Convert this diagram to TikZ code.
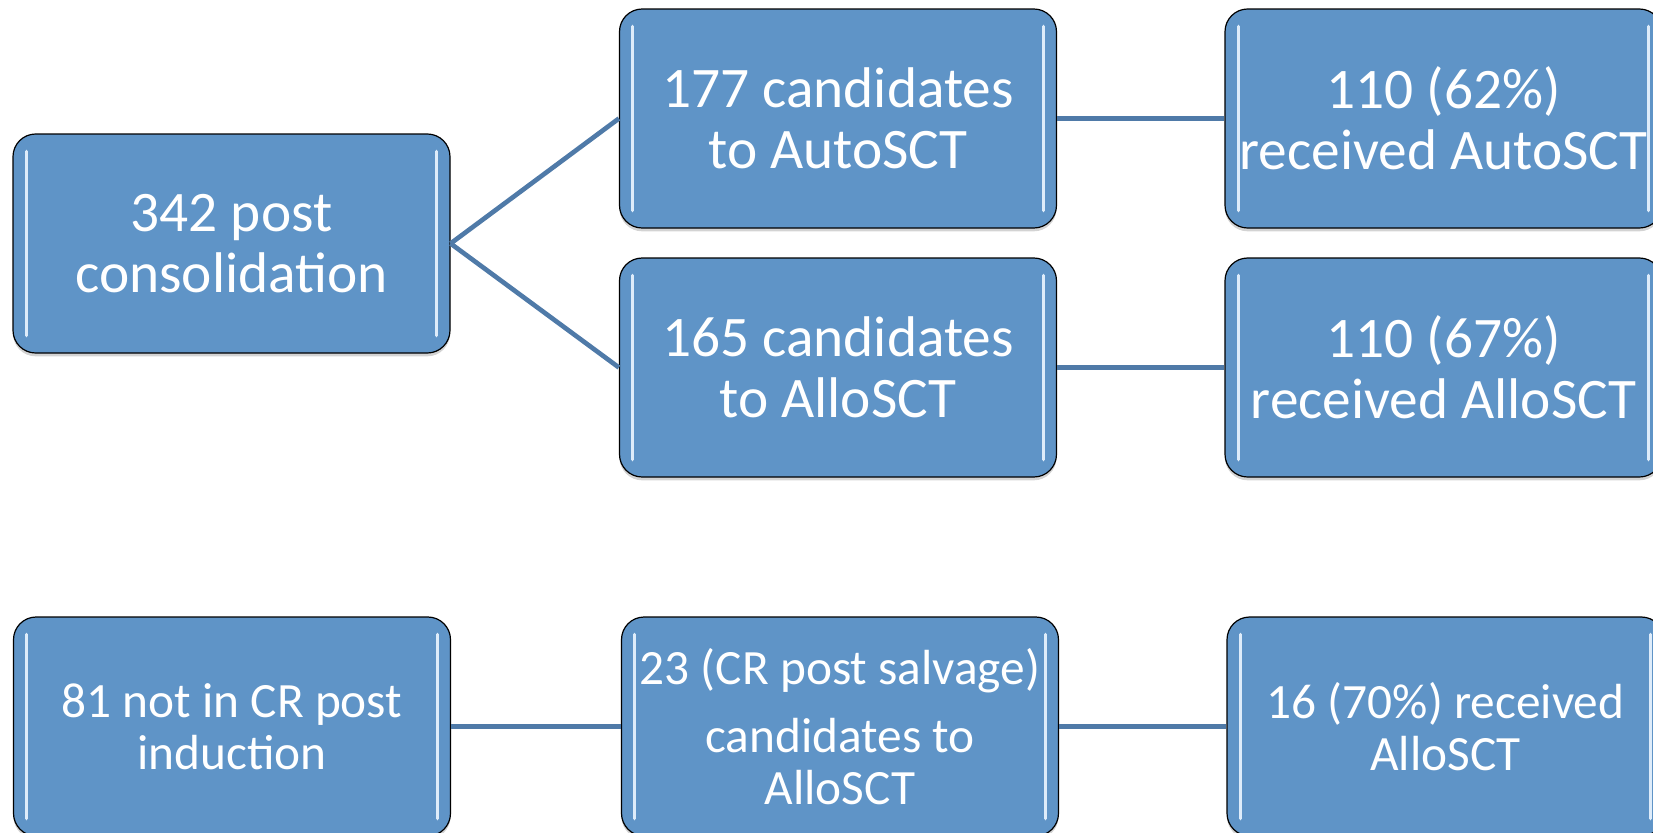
\documentclass[tikz,border=0pt]{standalone}
\usepackage{fontspec}
\setmainfont{Carlito}
\usetikzlibrary{shadows}

\begin{document}
\begin{tikzpicture}[x=0.75pt,y=0.75pt,yscale=-1,xscale=1,
  glint/.style={color={rgb, 255:red, 222; green, 236; blue, 250 }, line width=2.4pt, line cap=round},
  stepbox/.style={draw=black, line width=0.9pt, fill={rgb, 255:red, 95; green, 148; blue, 199 },
    rounded corners=17pt, minimum width=327.75pt, minimum height=164.25pt, inner sep=0pt,
    align=center, text=white,
    drop shadow={shadow xshift=0pt, shadow yshift=-2.5pt, opacity=0.35},
    path picture={
      \draw[glint] ([xshift=10pt,yshift=-13pt]path picture bounding box.north west) -- ([xshift=10pt,yshift=13pt]path picture bounding box.south west);
      \draw[glint] ([xshift=-10pt,yshift=-13pt]path picture bounding box.north east) -- ([xshift=-10pt,yshift=13pt]path picture bounding box.south east);
    }},
  bigtext/.style={font=\fontsize{43}{46}\selectfont},
  smalltext/.style={font=\fontsize{37}{39}\selectfont},
  link/.style={draw={rgb, 255:red, 79; green, 122; blue, 168 }, line width=3.5pt}]
\useasboundingbox (0,0) rectangle (1653,832);

% upper tree
\node[stepbox, bigtext] (cons) at (231.5,243.5) {342 post\\consolidation};
\node[stepbox, bigtext] (auto) at (838,118.5) {177 candidates\\to AutoSCT};
\node[stepbox, bigtext] (autodone) at (1443.5,118.5) {110 (62\%)\\received AutoSCT};
\node[stepbox, bigtext] (allo) at (838,367.5) {165 candidates\\to AlloSCT};
\node[stepbox, bigtext] (allodone) at (1443.5,367.5) {110 (67\%)\\received AlloSCT};

% lower row
\node[stepbox, smalltext] (induct) at (232,726.5) {81 not in CR post\\induction};
\node[stepbox, smalltext] (salvage) at (840,726.5) {23 (CR post salvage)\\[12pt]candidates to\\AlloSCT};
\node[stepbox, smalltext] (salvdone) at (1445.5,726.5) {16 (70\%) received\\AlloSCT};

\draw[link] (cons.east) -- (auto.west);
\draw[link] (cons.east) -- (allo.west);
\draw[link] (auto) -- (autodone);
\draw[link] (allo) -- (allodone);
\draw[link] (induct) -- (salvage);
\draw[link] (salvage) -- (salvdone);
\end{tikzpicture}
\end{document}
